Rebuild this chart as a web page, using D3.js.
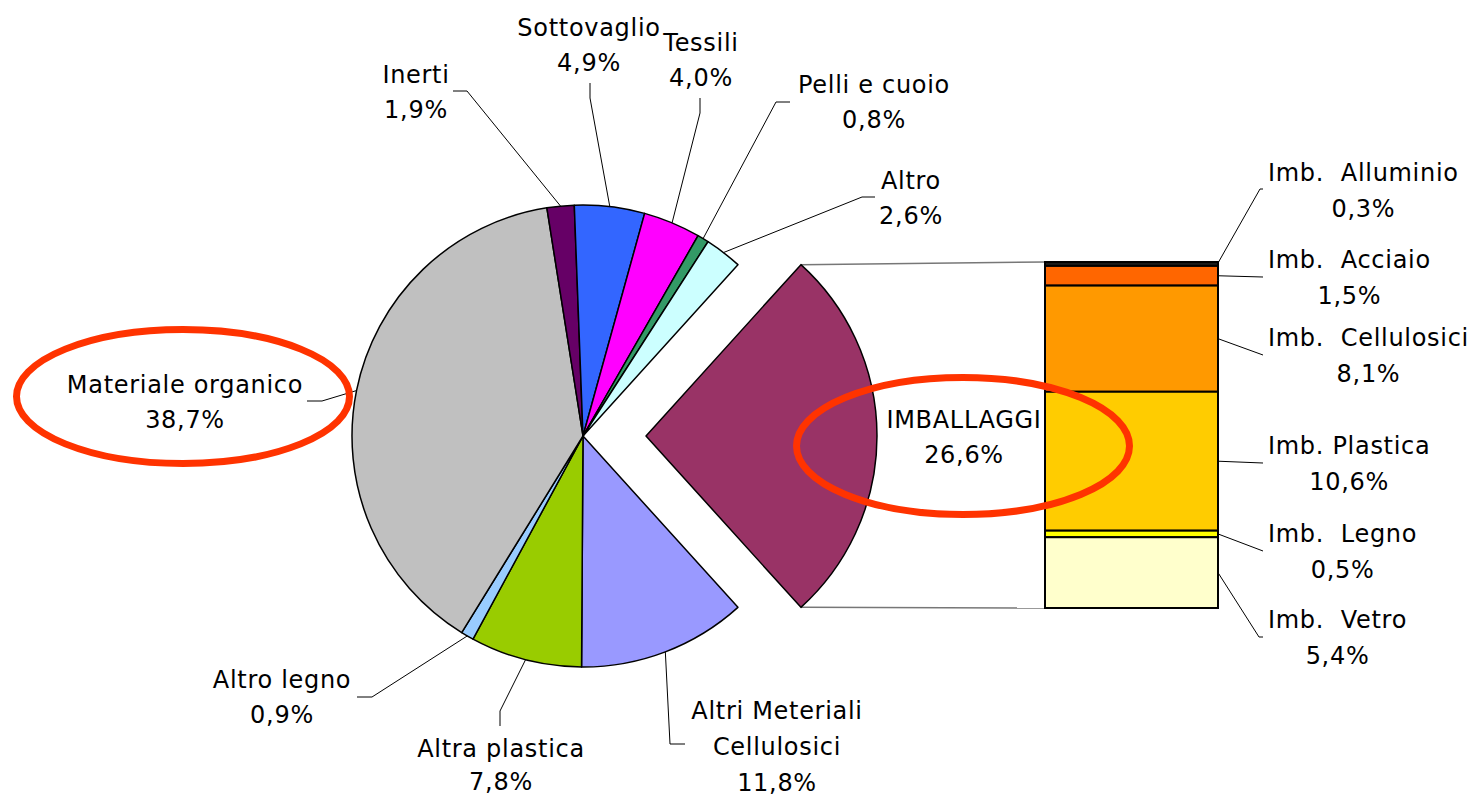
<!DOCTYPE html>
<html><head><meta charset="utf-8">
<script src="https://cdn.jsdelivr.net/npm/d3@7"></script>
<style>
body{margin:0;background:#fff}
text{font-family:"DejaVu Sans",Verdana,sans-serif;font-size:24px;letter-spacing:0.7px;white-space:pre;fill:#000}
</style>
</head><body>
<svg id="chart" width="1481" height="797" xml:space="preserve"></svg>
<script>
// ---- data ----
const pieCategories = ["IMBALLAGGI","Altri Meteriali\nCellulosici","Altra plastica","Altro legno","Materiale organico","Inerti","Sottovaglio","Tessili","Pelli e cuoio","Altro"];
const pieValues = [26.6, 11.8, 7.8, 0.9, 38.7, 1.9, 4.9, 4.0, 0.8, 2.6];
const pieColors = ["#993366","#9999FF","#99CC00","#99CCFF","#C0C0C0","#660066","#3366FF","#FF00FF","#339966","#CCFFFF"];

const barCategories = ["Imb.  Alluminio","Imb.  Acciaio","Imb.  Cellulosici","Imb. Plastica","Imb.  Legno","Imb.  Vetro"];
const barValues = [0.3, 1.5, 8.1, 10.6, 0.5, 5.4];
const barColors = ["#1a1a1a","#FF6600","#FF9900","#FFCC00","#FFFF00","#FFFFCC"];

// ---- layout (label placement) ----
const pieLabelLayout = [
  {x:964, y:428, gap:35, leader:null},
  {x:777, y:719, gap:35, leader:[[670,744],[685,744]]},
  {x:501, y:757, gap:33, leader:[[500,711],[500,726]]},
  {x:282, y:688, gap:35, leader:[[372,697],[357,697]]},
  {x:185, y:393, gap:35, leader:[[322,401],[307,401]]},
  {x:416, y:83,  gap:35, leader:[[467,91],[453,91]]},
  {x:589, y:36,  gap:35, leader:[[590,98],[590,83]]},
  {x:701, y:51,  gap:35, leader:[[700,113],[700,98]]},
  {x:874, y:93,  gap:35, leader:[[776,102],[790,102]]},
  {x:911, y:189, gap:35, leader:[[862,197],[875,197]]}
];
const barLabelLayout = [
  {y:181, leader:[[1260,189],[1263,189]], top:true},
  {y:268, leader:[[1263,277]]},
  {y:346, leader:[[1263,355]]},
  {y:454, leader:[[1263,463]]},
  {y:542, leader:[[1263,551]]},
  {y:628, leader:[[1259,637],[1263,637]]}
];
const fmt = v => d3.format(".1f")(v).replace(".", ",") + "%";

const svg = d3.select("#chart");
const cx = 583, cy = 436, R = 231, explode = 63;
const total = d3.sum(pieValues);
const a0 = Math.PI/2 - Math.PI*pieValues[0]/total;
const pie = d3.pie().sort(null).value(d=>d).startAngle(a0).endAngle(a0 + 2*Math.PI);
const arcs = pie(pieValues);
const arc = d3.arc().innerRadius(0).outerRadius(R);
const pt = (a, r) => [cx + r*Math.sin(a), cy - r*Math.cos(a)];

// bar scales
const barX0 = 1045, barX1 = 1218;
const barTotal = d3.sum(barValues);
const y = d3.scaleLinear().domain([0, barTotal]).range([262, 608]);
const cum = d3.cumsum(barValues);
const barData = barValues.map((v,i)=>({v, y0: cum[i]-v, y1: cum[i]}));

// connector lines between exploded slice and bar
const s0 = arcs[0];
const midA = (s0.startAngle + s0.endAngle)/2;
const ox = explode*Math.sin(midA), oy = -explode*Math.cos(midA);
const pA = pt(s0.startAngle, R), pB = pt(s0.endAngle, R);
svg.append("line").attr("x1",pA[0]+ox).attr("y1",pA[1]+oy).attr("x2",barX0).attr("y2",y(0))
  .attr("stroke","#777").attr("stroke-width",1.5);
svg.append("line").attr("x1",pB[0]+ox).attr("y1",pB[1]+oy).attr("x2",barX0).attr("y2",y(barTotal))
  .attr("stroke","#777").attr("stroke-width",1.5);

// pie
const g = svg.append("g").attr("transform",`translate(${cx},${cy})`);
g.selectAll("path").data(arcs).join("path")
  .attr("d", arc)
  .attr("transform", (d,i)=> i===0 ? `translate(${ox},${oy})` : null)
  .attr("fill", (d,i)=>pieColors[i])
  .attr("stroke","#000").attr("stroke-width",1.5).attr("stroke-linejoin","round");

// bar
svg.append("g").selectAll("rect").data(barData).join("rect")
  .attr("x", barX0).attr("width", barX1-barX0)
  .attr("y", d=>y(d.y0)).attr("height", d=>y(d.y1)-y(d.y0))
  .attr("fill",(d,i)=>barColors[i]).attr("stroke","#000").attr("stroke-width",2);

// pie leaders + labels
const line = d3.line();
arcs.forEach((d,i)=>{
  const L = pieLabelLayout[i];
  if (L.leader) {
    const a = (d.startAngle + d.endAngle)/2;
    const p = pt(a, R);
    svg.append("path").attr("d", line([p, ...L.leader])).attr("fill","none")
      .attr("stroke","#000").attr("stroke-width",1);
  }
  const lines = pieCategories[i].split("\n").concat([fmt(pieValues[i])]);
  const t = svg.append("text").attr("text-anchor","middle");
  lines.forEach((s,k)=> t.append("tspan").attr("x",L.x).attr("y",L.y + k*(lines.length>2 ? 36 : L.gap)).text(s));
});

// bar leaders + labels
const labelX = 1268;
barData.forEach((d,i)=>{
  const L = barLabelLayout[i];
  const ym = L.top ? y(d.y0) + 1 : (y(d.y0)+y(d.y1))/2;
  svg.append("path").attr("d", line([[barX1, ym], ...L.leader])).attr("fill","none")
    .attr("stroke","#000").attr("stroke-width",1);
  const t1 = svg.append("text").attr("x",labelX).attr("y",L.y).text(barCategories[i]);
  const w = t1.node().getComputedTextLength();
  t1.attr("text-anchor","middle").attr("x", labelX + w/2);
  svg.append("text").attr("text-anchor","middle").attr("x", labelX + w/2).attr("y", L.y + 36).text(fmt(barValues[i]));
});

// highlight ellipses
const highlights = [{cx:183, cy:396.5, rx:166.5, ry:67}, {cx:963, cy:446, rx:166.5, ry:68.5}];
svg.append("g").selectAll("ellipse").data(highlights).join("ellipse")
  .attr("cx",d=>d.cx).attr("cy",d=>d.cy).attr("rx",d=>d.rx).attr("ry",d=>d.ry)
  .attr("fill","none").attr("stroke","#FF3300").attr("stroke-width",7);
</script>
</body></html>
